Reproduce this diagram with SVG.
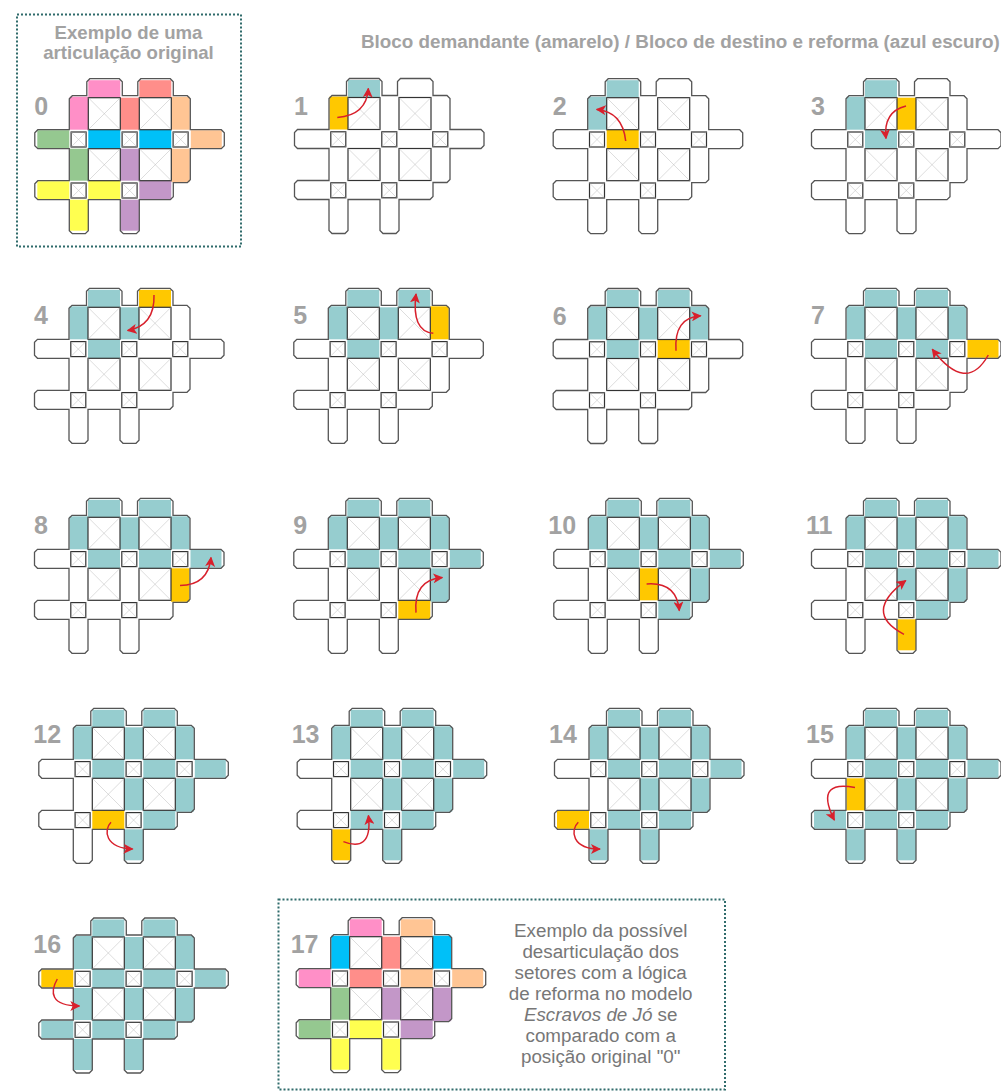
<svg xmlns="http://www.w3.org/2000/svg" width="1001" height="1092" viewBox="0 0 1001 1092">
<style>
text{font-family:"Liberation Sans",Arial,sans-serif}
.n{font-size:25px;font-weight:700;fill:#a2a2a2}
.h{font-size:18.6px;font-weight:700;fill:#a2a2a2;text-anchor:middle}
.hd{font-size:18.85px;font-weight:700;fill:#a2a2a2}
.b{font-size:18.8px;fill:#777;text-anchor:middle}
.o{fill:none;stroke:#555;stroke-width:1.3;stroke-linejoin:miter}
.q{fill:#fff;stroke:#333;stroke-width:1.2}
.x{fill:none;stroke:#bbb;stroke-width:.5}
.box{fill:none;stroke:#2f6b6b;stroke-width:2;stroke-dasharray:2 2}
.k{fill:#96cdcf}.y{fill:#ffc800}
.pk{fill:#ff8fc7}.sa{fill:#ff8e8a}.or{fill:#ffc594}.gr{fill:#95c890}.cy{fill:#00c0f8}.ye{fill:#ffff50}.pu{fill:#c397c8}
.ar{fill:none;stroke:#d8202c;stroke-width:1.5;marker-end:url(#ah)}
</style>
<defs>
<marker id="ah" viewBox="0 0 10 10" refX="9" refY="5" markerWidth="10" markerHeight="10" markerUnits="userSpaceOnUse" orient="auto"><path d="M0,0L10,5L0,10L2.5,5z" fill="#d8202c"/></marker>
<rect id="t1" x="19" y="-17.5" width="32" height="17.5"/>
<rect id="t2" x="70" y="-17.5" width="32" height="17.5"/>
<rect id="c0" x=".5" y="-1" width="18.5" height="33"/>
<rect id="c1" x="51" y="0" width="19" height="32"/>
<rect id="c2" x="102" y="-1" width="18.5" height="33"/>
<rect id="La" x="-32" y="32.5" width="32" height="18"/>
<rect id="r1" x="19" y="32" width="32" height="19"/>
<rect id="r2" x="70" y="32" width="32" height="19"/>
<rect id="Ra" x="121.5" y="32.5" width="31" height="18"/>
<rect id="m0" x=".5" y="51" width="18.5" height="32"/>
<rect id="m1" x="51" y="51" width="19" height="32"/>
<rect id="m2" x="102" y="51" width="18.5" height="33.5"/>
<rect id="Lb" x="-32" y="83.5" width="32" height="18"/>
<rect id="s1" x="19" y="83" width="32" height="19"/>
<rect id="s2" x="70" y="83" width="32" height="19"/>
<rect id="b1" x=".5" y="102" width="18.5" height="31"/>
<rect id="b2" x="51.5" y="102" width="18.5" height="31"/>
<g id="L"><rect class="q" width="32" height="32"/><path class="x" d="M0,0L32,32M32,0L0,32"/></g>
<g id="S"><rect class="q" width="15" height="15"/><path class="x" d="M0,0L15,15M15,0L0,15"/></g>
<g id="base">
<path class="o" d="M3,-2H17.5V-16L20.5,-19H50L53,-16V-2H68.5V-16L71.5,-19H101L104,-16V-2H118L121,1V32H152L155,35V48L152,51H121V82L118,85H104V99L101,102H70V133L67,136H54L51,133V102H19V133L16,136H3L0,133V102H-31.5L-34.5,99V86L-31.5,83H0V51H-31.5L-34.5,48V35L-31.5,32H0V1Z"/>
<use href="#L" x="19" y="0"/><use href="#L" x="70" y="0"/><use href="#L" x="19" y="51"/><use href="#L" x="70" y="51"/>
<use href="#S" x="1.8" y="34.3"/><use href="#S" x="52.8" y="34.3"/><use href="#S" x="103.8" y="34.3"/><use href="#S" x="1.8" y="85.3"/><use href="#S" x="52.8" y="85.3"/>
</g>
<g id="d2"><use href="#t1"/><use href="#c0"/></g>
<g id="d3"><use href="#d2"/><use href="#r1"/></g>
<g id="d4"><use href="#d3"/><use href="#c1"/></g>
<g id="d5"><use href="#d4"/><use href="#t2"/></g>
<g id="d6"><use href="#d5"/><use href="#c2"/></g>
<g id="d7"><use href="#d6"/><use href="#r2"/></g>
<g id="d8"><use href="#d7"/><use href="#Ra"/></g>
<g id="d9"><use href="#d8"/><use href="#m2"/></g>
<g id="d10"><use href="#d9"/><use href="#s2"/></g>
<g id="d11"><use href="#d10"/><use href="#m1"/></g>
<g id="d12"><use href="#d11"/><use href="#b2"/></g>
<g id="d13"><use href="#d12"/><use href="#s1"/></g>
<g id="d14"><use href="#d13"/><use href="#b1"/></g>
<g id="d15"><use href="#d14"/><use href="#Lb"/></g>
<g id="d16"><use href="#d15"/><use href="#m0"/></g>
</defs>
<rect width="1001" height="1092" fill="#fff"/>
<text class="hd" x="361" y="48">Bloco demandante (amarelo) / Bloco de destino e reforma (azul escuro)</text>
<g id="panel0">
<rect class="box" x="17" y="14.5" width="224" height="232"/>
<text class="h" x="128.5" y="38.5">Exemplo de uma</text>
<text class="h" x="128.5" y="58.5">articulação original</text>
<g transform="translate(69.3 97.7)">
<use href="#t1" class="pk"/><use href="#c0" class="pk"/><use href="#t2" class="sa"/><use href="#c1" class="sa"/><use href="#c2" class="or"/><use href="#Ra" class="or"/><use href="#m2" class="or"/><use href="#La" class="gr"/><use href="#m0" class="gr"/><use href="#r1" class="cy"/><use href="#r2" class="cy"/><use href="#Lb" class="ye"/><use href="#s1" class="ye"/><use href="#b1" class="ye"/><use href="#m1" class="pu"/><use href="#s2" class="pu"/><use href="#b2" class="pu"/>
<use href="#base"/><text class="n" x="-35" y="17">0</text></g>
</g>
<g id="panel1" transform="translate(329 97.5)"><use href="#t1" class="k"/><use href="#c0" class="y"/><use href="#base"/><text class="n" x="-35" y="17">1</text></g>
<g id="panel2" transform="translate(587.7 97.7)"><use href="#d2" class="k"/><use href="#r1" class="y"/><use href="#base"/><text class="n" x="-35" y="17">2</text></g>
<g id="panel3" transform="translate(846 97.7)"><use href="#d3" class="k"/><use href="#c1" class="y"/><use href="#base"/><text class="n" x="-35" y="17">3</text></g>
<g id="panel4" transform="translate(69 307.3)"><use href="#d4" class="k"/><use href="#t2" class="y"/><use href="#base"/><text class="n" x="-35" y="17">4</text></g>
<g id="panel5" transform="translate(328.3 307.3)"><use href="#d5" class="k"/><use href="#c2" class="y"/><use href="#base"/><text class="n" x="-35" y="17">5</text></g>
<g id="panel6" transform="translate(587.7 307.5)"><use href="#d6" class="k"/><use href="#r2" class="y"/><use href="#base"/><text class="n" x="-35" y="17">6</text></g>
<g id="panel7" transform="translate(846 307.3)"><use href="#d7" class="k"/><use href="#Ra" class="y"/><use href="#base"/><text class="n" x="-35" y="17">7</text></g>
<g id="panel8" transform="translate(69 517.3)"><use href="#d8" class="k"/><use href="#m2" class="y"/><use href="#base"/><text class="n" x="-35" y="17">8</text></g>
<g id="panel9" transform="translate(328.3 517.3)"><use href="#d9" class="k"/><use href="#s2" class="y"/><use href="#base"/><text class="n" x="-35" y="17">9</text></g>
<g id="panel10" transform="translate(588.3 517.3)"><use href="#d10" class="k"/><use href="#m1" class="y"/><use href="#base"/><text class="n" x="-40" y="17">10</text></g>
<g id="panel11" transform="translate(846 517.3)"><use href="#d11" class="k"/><use href="#b2" class="y"/><use href="#base"/><text class="n" x="-40" y="17">11</text></g>
<g id="panel12" transform="translate(73.3 727.3)"><use href="#d12" class="k"/><use href="#s1" class="y"/><use href="#base"/><text class="n" x="-40" y="16">12</text></g>
<g id="panel13" transform="translate(331.7 727.3)"><use href="#d13" class="k"/><use href="#b1" class="y"/><use href="#base"/><text class="n" x="-40" y="16">13</text></g>
<g id="panel14" transform="translate(589 727.3)"><use href="#d14" class="k"/><use href="#Lb" class="y"/><use href="#base"/><text class="n" x="-40" y="16">14</text></g>
<g id="panel15" transform="translate(846 727.3)"><use href="#d15" class="k"/><use href="#m0" class="y"/><use href="#base"/><text class="n" x="-40" y="16">15</text></g>
<g id="panel16" transform="translate(73.3 937)"><use href="#d16" class="k"/><use href="#La" class="y"/><use href="#base"/><text class="n" x="-40" y="16">16</text></g>
<g id="panel17">
<rect class="box" x="278.5" y="899.5" width="446.5" height="190"/>
<g transform="translate(330.7 936.7)">
<use href="#t1" class="pk"/><use href="#t2" class="or"/><use href="#c0" class="cy"/><use href="#c1" class="sa"/><use href="#c2" class="cy"/><use href="#La" class="pk"/><use href="#r1" class="sa"/><use href="#r2" class="or"/><use href="#Ra" class="or"/><use href="#m0" class="gr"/><use href="#m1" class="pu"/><use href="#m2" class="pu"/><use href="#Lb" class="gr"/><use href="#s1" class="ye"/><use href="#s2" class="pu"/><use href="#b1" class="ye"/><use href="#b2" class="ye"/>
<use href="#base"/><text class="n" x="-40" y="16">17</text></g>
<text class="b" x="600.7" y="937.3">Exemplo da possível</text>
<text class="b" x="600.7" y="958.3">desarticulação dos</text>
<text class="b" x="600.7" y="979.2">setores com a lógica</text>
<text class="b" x="600.7" y="1000">de reforma no modelo</text>
<text class="b" x="600.7" y="1020.8"><tspan font-style="italic">Escravos de Jó</tspan> se</text>
<text class="b" x="600.7" y="1041.7">comparado com a</text>
<text class="b" x="600.7" y="1062.7">posição original "0"</text>
</g>
<g id="connectors">
<path class="ar" transform="translate(329 97.5)" d="M8.3,20Q37.7,17.7 39.3,-9"/>
<path class="ar" transform="translate(587.7 97.7)" d="M38,43.3Q35,14 9,11.7"/>
<path class="ar" transform="translate(846 97.7)" d="M60,8.3Q37,14 40,40.7"/>
<path class="ar" transform="translate(69 307.3)" d="M85,-12.3Q86,18 58.7,23.3"/>
<path class="ar" transform="translate(328.3 307.3)" d="M105,26Q83,24 87.7,-13.3"/>
<path class="ar" transform="translate(587.7 307.5)" d="M88.3,43.3Q86,10 113,8.3"/>
<path class="ar" transform="translate(846 307.3)" d="M142.3,47.7Q120.3,87 86.3,42"/>
<path class="ar" transform="translate(69 517.3)" d="M111,68.3Q139.3,67.7 142,40.3"/>
<path class="ar" transform="translate(328.3 517.3)" d="M87.7,95.3Q85,62.7 114,60.3"/>
<path class="ar" transform="translate(588.3 517.3)" d="M58.3,66.7Q88.3,64.3 91,93.3"/>
<path class="ar" transform="translate(846 517.3)" d="M58,117Q16,95.3 59.7,63.3"/>
<path class="ar" transform="translate(73.3 727.3)" d="M37.7,95C30,102.7 31.7,121 59.3,121.7"/>
<path class="ar" transform="translate(331.7 727.3)" d="M11.7,114.3C28.3,121 40,116 36.7,88.3"/>
<path class="ar" transform="translate(589 727.3)" d="M-10.7,95C-19,102.7 -17.3,121.7 11,121.7"/>
<path class="ar" transform="translate(846 727.3)" d="M9,60.3C-12.7,56 -27.7,61 -11.7,92.7"/>
<path class="ar" transform="translate(73.3 937)" d="M-16,42C-23.3,54.7 -23.3,69 6,69"/>
</g>
</svg>
